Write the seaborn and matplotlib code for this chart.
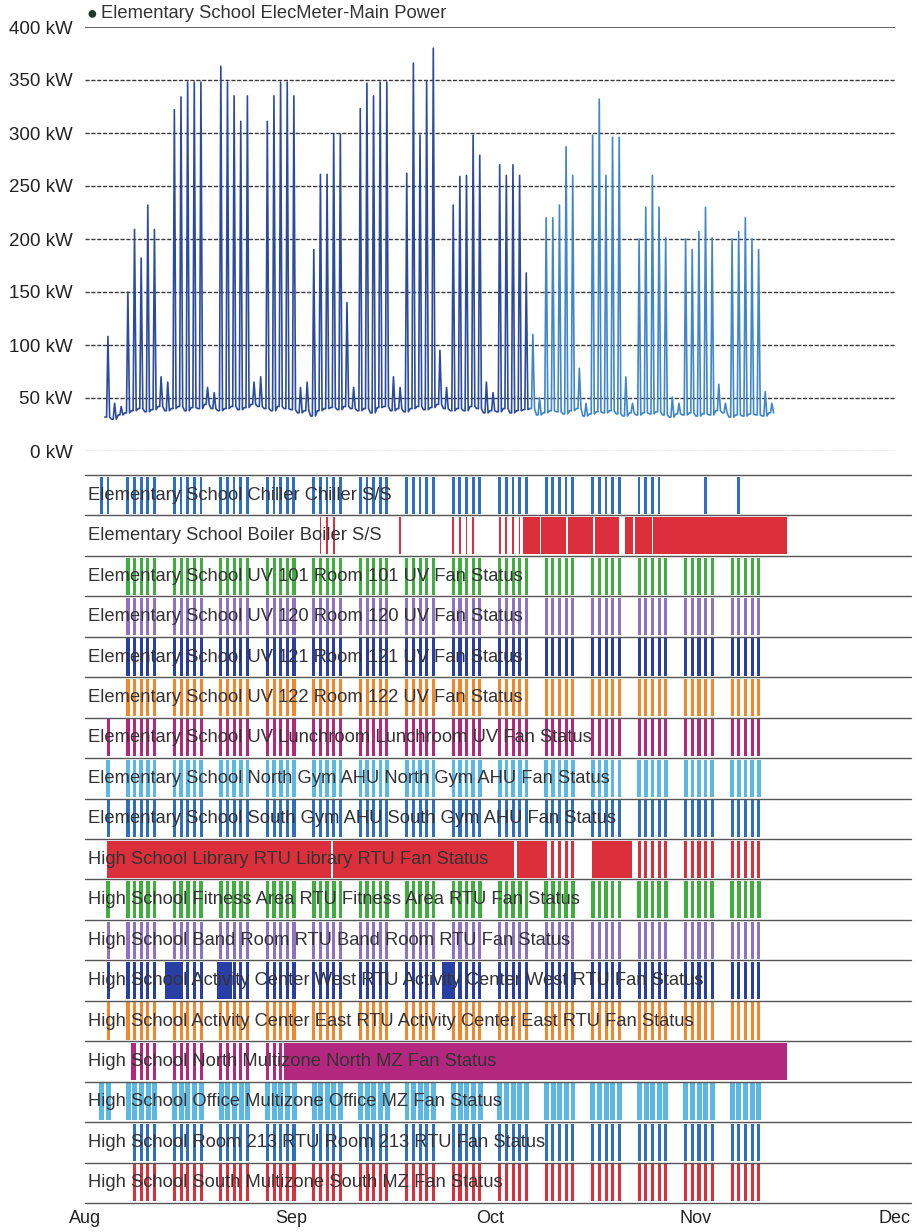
import pandas as pd
import numpy as np
import matplotlib
matplotlib.use('Agg')
import matplotlib.pyplot as plt
import matplotlib.dates as mdates
import seaborn as sns

# ---------------- data ----------------
# main meter: one night value and one daytime peak per day, Aug 4 -> Nov 12
power_start = '2017-08-04'
peak_kw = [108, 45, 42,
           150, 209, 182, 232, 209, 70, 65,
           322, 334, 348, 348, 348, 60, 55,
           363, 348, 335, 311, 335, 65, 70,
           311, 335, 348, 348, 335, 60, 65,
           190, 261, 261, 299, 299, 140, 60,
           323, 347, 335, 348, 348, 70, 60,
           262, 366, 298, 349, 380, 95, 60,
           232, 259, 260, 298, 279, 65, 55,
           270, 260, 270, 260, 168, 110, 50,
           220, 220, 232, 287, 260, 78, 45,
           298, 332, 260, 296, 296, 70, 45,
           200, 230, 260, 230, 201, 51, 45,
           200, 190, 207, 230, 201, 63, 45,
           200, 207, 220, 200, 190, 56, 45]
base_kw = [32, 30, 34,
           36, 38, 40, 37, 39, 42, 38,
           40, 42, 38, 41, 40, 44, 40,
           38, 40, 42, 39, 41, 44, 42,
           40, 38, 42, 40, 39, 36, 38,
           33, 38, 40, 41, 39, 42, 40,
           38, 40, 36, 41, 42, 38, 40,
           37, 40, 42, 39, 41, 44, 40,
           38, 40, 38, 42, 40, 36, 38,
           37, 40, 36, 38, 39, 40, 34,
           36, 38, 37, 35, 38, 40, 33,
           35, 37, 36, 38, 35, 33, 36,
           34, 36, 35, 37, 34, 32, 35,
           34, 36, 33, 35, 34, 38, 36,
           32, 34, 33, 35, 34, 33, 36]
color_switch = '2017-10-07'

row_labels = [
    'Elementary School Chiller Chiller S/S',
    'Elementary School Boiler Boiler S/S',
    'Elementary School UV 101 Room 101 UV Fan Status',
    'Elementary School UV 120 Room 120 UV Fan Status',
    'Elementary School UV 121 Room 121 UV Fan Status',
    'Elementary School UV 122 Room 122 UV Fan Status',
    'Elementary School UV Lunchroom Lunchroom UV Fan Status',
    'Elementary School North Gym AHU North Gym AHU Fan Status',
    'Elementary School South Gym AHU South Gym AHU Fan Status',
    'High School Library RTU Library RTU Fan Status',
    'High School Fitness Area RTU Fitness Area RTU Fan Status',
    'High School Band Room RTU Band Room RTU Fan Status',
    'High School Activity Center West RTU Activity Center West RTU Fan Status',
    'High School Activity Center East RTU Activity Center East RTU Fan Status',
    'High School North Multizone North MZ Fan Status',
    'High School Office Multizone Office MZ Fan Status',
    'High School Room 213 RTU Room 213 RTU Fan Status',
    'High School South Multizone South MZ Fan Status',
]
row_colors = ['#2e6fc0', '#dc2f3c', '#3fae3f', '#8e72c4', '#2a3fa6', '#f2862a',
              '#b3277f', '#5bb8e4', '#2e6fc0', '#dc2f3c', '#3fae3f', '#8e72c4',
              '#2a3fa6', '#f2862a', '#b3277f', '#5bb8e4', '#2e6fc0', '#dc2f3c']

# weekday running periods (first day, last day) and daily run hours
bar_from = ['2017-08-03', None, '2017-08-07', '2017-08-07', '2017-08-07', '2017-08-07',
            '2017-08-07', '2017-08-07', '2017-08-07', '2017-10-23', '2017-08-04', '2017-08-04',
            '2017-08-04', '2017-08-04', '2017-08-08', '2017-08-03', '2017-08-08', '2017-08-08']
bar_to = ['2017-10-26', None, '2017-11-10', '2017-11-10', '2017-11-10', '2017-11-10',
          '2017-11-10', '2017-11-10', '2017-11-10', '2017-11-10', '2017-11-10', '2017-11-10',
          '2017-11-10', '2017-11-10', '2017-08-30', '2017-11-10', '2017-11-10', '2017-11-10']
bar_hours = [(6, 16), (8, 14), (6, 17), (6, 17), (6, 17), (6, 17),
             (6, 17), (5, 18), (6, 17), (6, 17), (5, 18), (6, 17),
             (6, 17), (6, 17), (6, 17), (3, 21), (6, 17), (6, 17)]

# single extra run days (row, date)
extra_bars = [(0, '2017-11-02'), (0, '2017-11-07'),
              (1, '2017-09-05'), (1, '2017-09-06'), (1, '2017-09-07'), (1, '2017-09-17'),
              (1, '2017-09-25'), (1, '2017-09-26'), (1, '2017-09-27'), (1, '2017-09-28'),
              (1, '2017-10-02'), (1, '2017-10-03'), (1, '2017-10-04'), (1, '2017-10-05'),
              (6, '2017-08-04'), (7, '2017-08-04'), (8, '2017-08-04'),
              (9, '2017-10-10'), (9, '2017-10-11'), (9, '2017-10-12'), (9, '2017-10-13')]

# continuous running spans (row, start, end)
solid_spans = [
    (1, '2017-10-06 00:00', '2017-10-08 12:00'),
    (1, '2017-10-08 17:00', '2017-10-12 12:00'),
    (1, '2017-10-12 17:00', '2017-10-16 14:00'),
    (1, '2017-10-16 19:00', '2017-10-20 10:00'),
    (1, '2017-10-21 08:00', '2017-10-22 14:00'),
    (1, '2017-10-22 19:00', '2017-10-25 08:00'),
    (1, '2017-10-25 13:00', '2017-11-14 19:00'),
    (9, '2017-08-04 06:00', '2017-09-07 03:00'),
    (9, '2017-09-07 08:00', '2017-10-04 14:00'),
    (9, '2017-10-05 02:00', '2017-10-09 14:00'),
    (9, '2017-10-16 10:00', '2017-10-22 11:00'),
    (12, '2017-08-13 02:00', '2017-08-15 07:00'),
    (12, '2017-08-20 22:00', '2017-08-23 02:00'),
    (12, '2017-09-23 19:00', '2017-09-25 19:00'),
    (14, '2017-08-08 00:00', '2017-08-08 18:00'),
    (14, '2017-08-31 00:00', '2017-11-14 19:00'),
]

month_ticks = ['2017-08-01', '2017-09-01', '2017-10-01', '2017-11-01', '2017-12-01']

# ---------------- build power series ----------------
days = pd.date_range(power_start, periods=len(peak_kw), freq='D')
rec = []
for d, b, p in zip(days, base_kw, peak_kw):
    rec.append((d, b))
    rec.append((d + pd.Timedelta(hours=6), b))
    rec.append((d + pd.Timedelta(hours=11), p))
    rec.append((d + pd.Timedelta(hours=17), b))
power = pd.DataFrame(rec, columns=['time', 'kw'])
switch = pd.Timestamp(color_switch)
early = power[power['time'] <= switch]
late = power[power['time'] >= switch]

# ---------------- figure ----------------
sns.set_style('white')
plt.rcParams['font.family'] = ['Liberation Sans', 'DejaVu Sans']

W, H = 917, 1232
fig = plt.figure(figsize=(W / 100, H / 100), dpi=100)
x0 = pd.Timestamp('2017-08-01')
x1 = pd.Timestamp('2017-12-01')

# top panel: power
ax1 = fig.add_axes([85 / W, 1 - 451 / H, 810 / W, (451 - 27) / H])
for v in range(50, 400, 50):
    ax1.axhline(v, color='#3a3a3a', lw=1.0, ls=(0, (3, 1.2)), zorder=1)
ax1.axhline(400, color='#555555', lw=1.3, zorder=1)
ax1.axhline(0, color='#9a9a9a', lw=1.0, ls=(0, (3, 1.2)), zorder=1)

sns.lineplot(data=early, x='time', y='kw', color='#2b4b9e', lw=1.2,
             estimator=None, ax=ax1, zorder=3)
sns.lineplot(data=late, x='time', y='kw', color='#3f86cb', lw=1.2,
             estimator=None, ax=ax1, zorder=3)

ax1.set_xlim(x0, x1)
ax1.set_ylim(0, 400)
ax1.set_yticks(range(0, 401, 50))
ax1.set_yticklabels([f'{v} kW' for v in range(0, 401, 50)], fontsize=13.5, color='#222222')
ax1.tick_params(axis='y', length=0, pad=9)
ax1.set_xticks([])
ax1.set_xlabel('')
ax1.set_ylabel('')
for s in ax1.spines.values():
    s.set_visible(False)

fig.text(87 / W, 1 - 14 / H, '\u25cf', fontsize=13, color='#1f3a2e', va='center', ha='left')
fig.text(101 / W, 1 - 14 / H, 'Elementary School ElecMeter-Main Power',
         fontsize=13.2, color='#333333', va='center', ha='left')

# bottom panel: equipment status
ax2 = fig.add_axes([85 / W, 1 - 1203 / H, 810 / W, (1203 - 475) / H])
n_rows = len(row_labels)

for i in range(n_rows):
    spans = []
    h0, h1 = bar_hours[i]
    if bar_from[i] is not None:
        for d in pd.bdate_range(bar_from[i], bar_to[i]):
            start = mdates.date2num(d + pd.Timedelta(hours=h0))
            spans.append((start, (h1 - h0) / 24))
    for r, d in extra_bars:
        if r == i:
            start = mdates.date2num(pd.Timestamp(d) + pd.Timedelta(hours=h0))
            spans.append((start, (h1 - h0) / 24))
    for r, a, b in solid_spans:
        if r == i:
            a_num = mdates.date2num(pd.Timestamp(a))
            spans.append((a_num, mdates.date2num(pd.Timestamp(b)) - a_num))
    ax2.broken_barh(spans, (i + 0.04, 0.92), facecolors=row_colors[i],
                    edgecolors='none', linewidth=0, zorder=2)

for i in range(n_rows + 1):
    ax2.axhline(i, xmin=0, xmax=1.02, color='#555555', lw=1.0, zorder=3, clip_on=False)

for i, lab in enumerate(row_labels):
    ax2.text(x0 + pd.Timedelta(hours=11), i + 0.5, lab, fontsize=13.2, color='#333333',
             va='center', ha='left', zorder=4)

ax2.set_xlim(x0, x1)
ax2.set_ylim(n_rows, 0)
ax2.set_yticks([])
ax2.set_xticks(pd.to_datetime(month_ticks))
ax2.xaxis.set_major_formatter(mdates.DateFormatter('%b'))
ax2.tick_params(axis='x', length=0, pad=5, labelsize=13, labelcolor='#222222')
for s in ax2.spines.values():
    s.set_visible(False)

fig.savefig('out.png', dpi=100)
